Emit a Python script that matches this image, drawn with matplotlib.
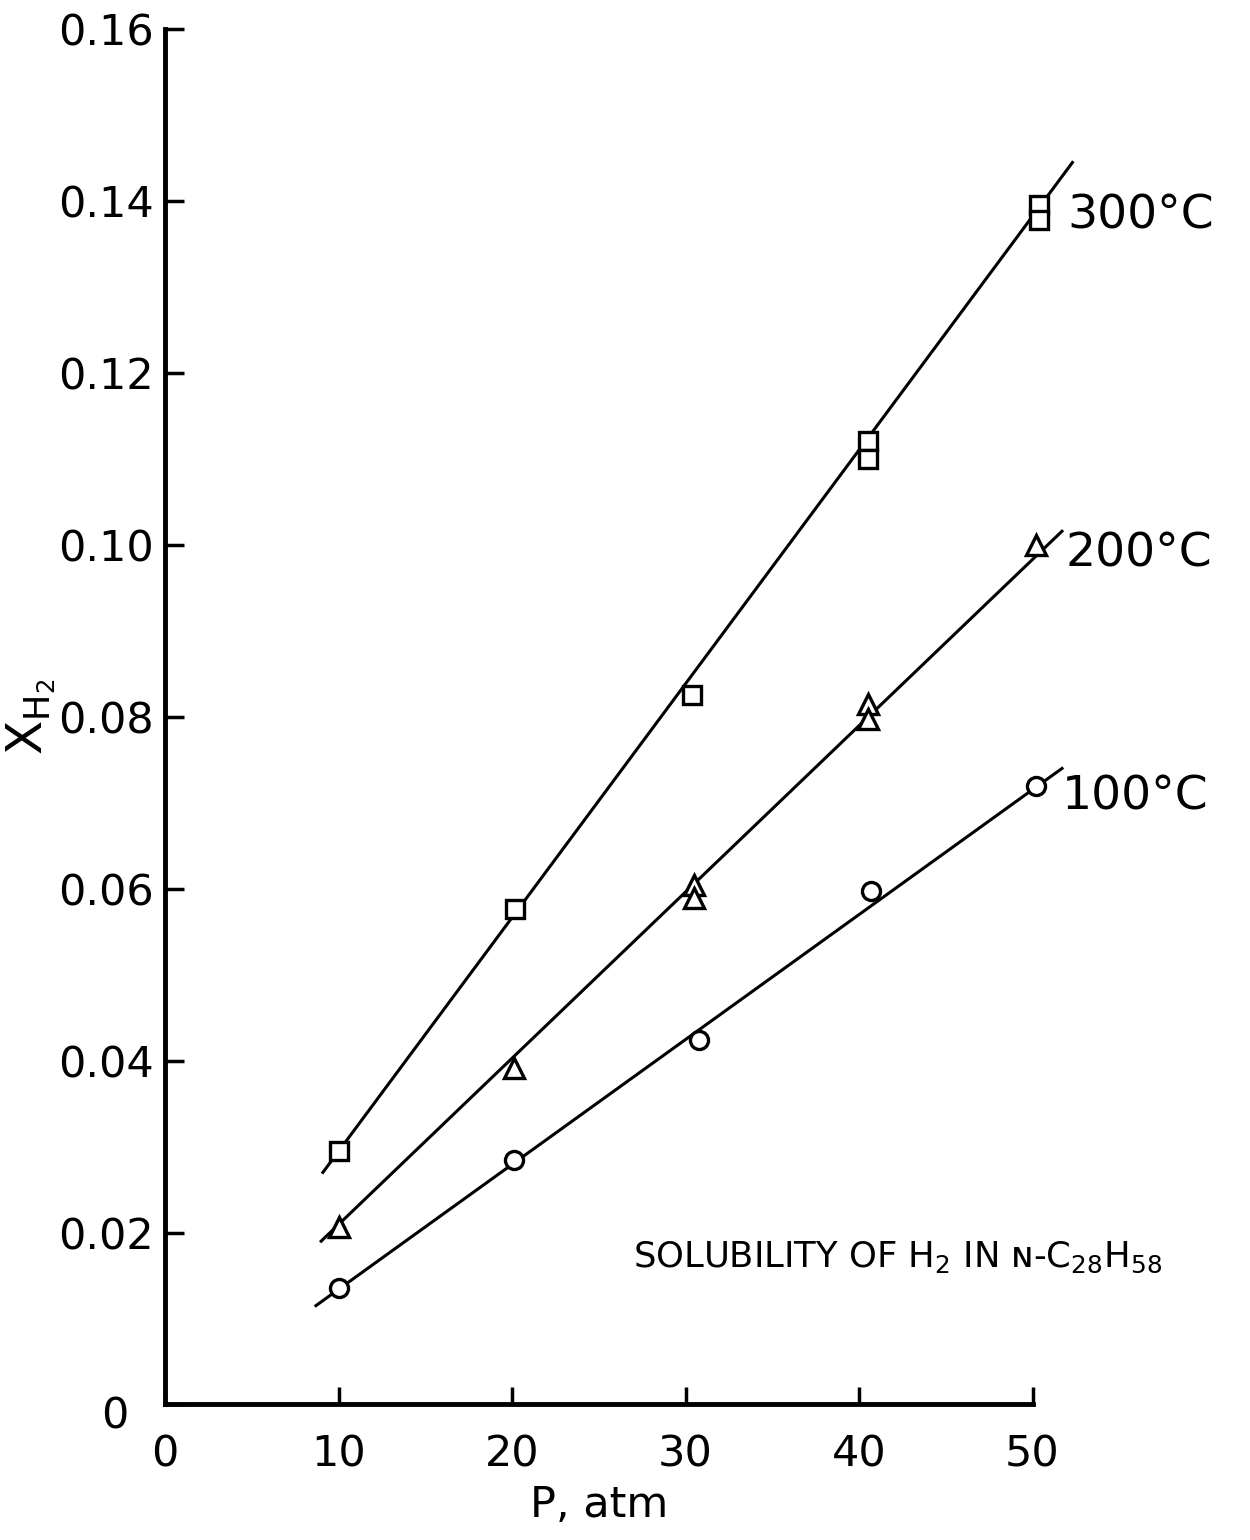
import matplotlib.pyplot as plt
from matplotlib.transforms import ScaledTranslation

# measured points (P in atm, mole fraction of H2)
p_100 = [10.0, 20.1, 30.8, 40.7, 50.2]
x_100 = [0.0135, 0.0285, 0.0424, 0.0597, 0.0719]
p_200 = [10.0, 20.1, 30.5, 30.5, 40.5, 40.5, 50.2]
x_200 = [0.0207, 0.0391, 0.0604, 0.0589, 0.0815, 0.0798, 0.1000]
p_300 = [10.0, 20.2, 30.4, 40.5, 40.5, 50.4, 50.4]
x_300 = [0.0295, 0.0576, 0.0826, 0.1121, 0.1100, 0.1396, 0.1378]

# straight fit lines drawn through each set (end points)
fit_p_100 = [8.7, 51.7]
fit_x_100 = [0.0115, 0.0740]
fit_p_200 = [9.0, 51.7]
fit_x_200 = [0.0190, 0.1016]
fit_p_300 = [9.1, 52.3]
fit_x_300 = [0.0270, 0.1445]

labels = ['100°C', '200°C', '300°C']
label_p = [51.7, 51.9, 52.0]
label_x = [0.0707, 0.0989, 0.1383]

xticks = [0, 10, 20, 30, 40, 50]
yticks = [0, 0.02, 0.04, 0.06, 0.08, 0.10, 0.12, 0.14, 0.16]
ytick_labels = ['0', '0.02', '0.04', '0.06', '0.08', '0.10', '0.12', '0.14', '0.16']

plt.rcParams['font.family'] = ['DejaVu Sans']

fig = plt.figure(figsize=(12.5, 15.4), dpi=100)
ax = fig.add_axes([0.132, 0.088, 0.694, 0.893])

ax.plot(fit_p_100, fit_x_100, 'k-', lw=2.2, clip_on=False)
ax.plot(fit_p_200, fit_x_200, 'k-', lw=2.2, clip_on=False)
ax.plot(fit_p_300, fit_x_300, 'k-', lw=2.2, clip_on=False)

mk = dict(linestyle='none', mfc='white', mec='black', mew=2.4, clip_on=False, zorder=3)
ax.plot(p_100, x_100, 'o', ms=13, **mk)
ax.plot(p_200, x_200, '^', ms=14, **mk)
ax.plot(p_300, x_300, 's', ms=13, **mk)

for lab, px, py in zip(labels, label_p, label_x):
    ax.text(px, py, lab, fontsize=34, ha='left', va='center', clip_on=False)

ax.text(27.0, 0.0171, r'SOLUBILITY OF H$_2$ IN ɴ-C$_{28}$H$_{58}$', fontsize=25.5,
        ha='left', va='center')

ax.set_xlim(0, 50)
ax.set_ylim(0, 0.16)
ax.set_xticks(xticks)
ax.set_yticks(yticks, ytick_labels)

for s in ['top', 'right']:
    ax.spines[s].set_visible(False)
for s in ['left', 'bottom']:
    ax.spines[s].set_linewidth(3.5)

ax.tick_params(direction='in', length=14, width=2.5, labelsize=31)
ax.tick_params(axis='x', pad=21, length=12)
ax.tick_params(axis='y', pad=8)

# the zero label on the y axis sits a bit away from the corner
for t in ax.get_yticklabels():
    if t.get_text() == '0':
        t.set_transform(t.get_transform() + ScaledTranslation(-0.25, -0.08, fig.dpi_scale_trans))

ax.set_xlabel('P, atm', fontsize=31, labelpad=6)
ax.set_ylabel(r'$\mathrm{X}_{\mathrm{H}_2}$', fontsize=36, labelpad=0)

fig.savefig('out.png', dpi=100)
